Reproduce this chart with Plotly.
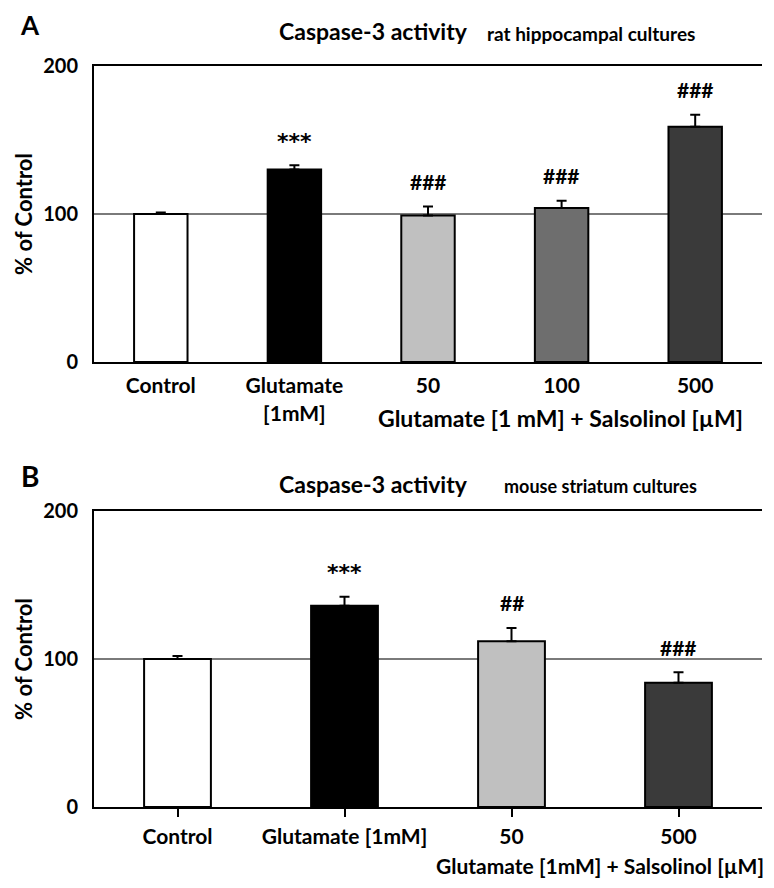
import plotly.graph_objects as go

# ---- Panel A data ----
cats_a = ["Control", "Glutamate<br>[1mM]", "50", "100", "500"]
vals_a = [100, 130, 99, 104, 159]
err_a = [1, 3, 6, 5, 8]
sig_a = ["", "***", "###", "###", "###"]
colors_a = ["#ffffff", "#000000", "#c0c0c0", "#6e6e6e", "#3a3a3a"]

# ---- Panel B data ----
cats_b = ["Control", "Glutamate [1mM]", "50", "500"]
vals_b = [100, 136, 112, 84]
err_b = [2, 6, 9, 7]
sig_b = ["", "***", "##", "###"]
colors_b = ["#ffffff", "#000000", "#c0c0c0", "#3a3a3a"]

y_ticks = [0, 100, 200]

FONT = "Lato"
# page has an 8px body margin; figure fills the rest of the 774x888 window
OFF = 8
W, H = 774 - 2 * OFF, 888 - 2 * OFF

def px(x):
    return (x - OFF) / W

def py(y):
    return 1 - (y - OFF) / H

fig = go.Figure()

fig.add_trace(go.Bar(
    x=list(range(len(cats_a))), y=vals_a, xaxis="x", yaxis="y", width=0.4,
    marker=dict(color=colors_a, line=dict(color="black", width=2)),
    error_y=dict(type="data", symmetric=False, array=err_a,
                 arrayminus=[0] * len(err_a), color="black", thickness=2, width=5),
    showlegend=False, hoverinfo="skip"))

fig.add_trace(go.Bar(
    x=list(range(len(cats_b))), y=vals_b, xaxis="x2", yaxis="y2", width=0.4,
    marker=dict(color=colors_b, line=dict(color="black", width=2)),
    error_y=dict(type="data", symmetric=False, array=err_b,
                 arrayminus=[0] * len(err_b), color="black", thickness=2, width=5),
    showlegend=False, hoverinfo="skip"))

xdom = [px(94), px(762)]
domA = [py(362), py(66)]
domB = [py(807), py(511)]

tickfont = dict(family=FONT, size=21, color="black", weight="bold")
ytickfont = dict(family=FONT, size=20, color="black", weight="bold")
ytitle = dict(family=FONT, size=22, color="black", weight="bold")

fig.update_layout(
    width=W, height=H,
    margin=dict(l=0, r=0, t=0, b=0),
    paper_bgcolor="white", plot_bgcolor="white",
    xaxis=dict(domain=xdom, anchor="y", range=[-0.5, 4.5], automargin=False,
               tickmode="array", tickvals=list(range(len(cats_a))), ticktext=cats_a,
               showline=True, linecolor="black", linewidth=2, mirror=True,
               ticks="", showgrid=False, zeroline=False, tickfont=tickfont,
               ticklabelstandoff=4),
    yaxis=dict(domain=domA, anchor="x", range=[0, 200], tickvals=y_ticks,
               automargin=False,
               showline=True, linecolor="black", linewidth=2,
               showgrid=True, gridcolor="#7a7a7a", gridwidth=2, zeroline=False,
               ticks="", tickfont=ytickfont, ticklabelstandoff=10,
               title=dict(text="% of Control", font=ytitle, standoff=4)),
    xaxis2=dict(domain=xdom, anchor="y2", range=[-0.5, 3.5], automargin=False,
                tickmode="array", tickvals=list(range(len(cats_b))), ticktext=cats_b,
                showline=True, linecolor="black", linewidth=2, mirror=True,
                ticks="outside", tickson="boundaries", ticklen=8, tickwidth=2,
                tickcolor="black", showgrid=False, zeroline=False, tickfont=tickfont,
                ticklabelstandoff=2),
    yaxis2=dict(domain=domB, anchor="x2", range=[0, 200], tickvals=y_ticks,
                automargin=False,
                showline=True, linecolor="black", linewidth=2,
                showgrid=True, gridcolor="#7a7a7a", gridwidth=2, zeroline=False,
                ticks="", tickfont=ytickfont, ticklabelstandoff=10,
                title=dict(text="% of Control", font=ytitle, standoff=4)),
)

anns = []

def sig(xref, yref, i, v, e, s):
    star = s.startswith("*")
    anns.append(dict(x=i, y=v + e, xref=xref, yref=yref, text=s, showarrow=False,
                     yanchor="middle", yshift=24 if star else 25,
                     font=dict(family="DejaVu Sans" if star else FONT,
                               size=22 if star else 21,
                               color="black", weight="bold")))

for i, (v, e, s) in enumerate(zip(vals_a, err_a, sig_a)):
    if s:
        sig("x", "y", i, v, e, s)
for i, (v, e, s) in enumerate(zip(vals_b, err_b, sig_b)):
    if s:
        sig("x2", "y2", i, v, e, s)

def ptxt(text, x, y, size, xanchor="center", yanchor="middle"):
    anns.append(dict(text=text, x=px(x), y=py(y), xref="paper", yref="paper",
                     showarrow=False, xanchor=xanchor, yanchor=yanchor, borderpad=0,
                     font=dict(family=FONT, size=size, color="black", weight="bold")))

ptxt("A", 30, 25, 26)
ptxt("B", 30, 476, 28)
ptxt("Caspase-3 activity", 373, 31, 23)
ptxt("rat hippocampal cultures", 591, 33, 19)
ptxt("Caspase-3 activity", 373, 484, 23)
ptxt("mouse striatum cultures", 600, 486, 18)
ptxt("Glutamate [1 mM] + Salsolinol [µM]", 560, 418, 23)
ptxt("Glutamate [1mM] + Salsolinol [µM]", 765, 865, 21, xanchor="right")

fig.update_layout(annotations=anns)

fig.write_html("out.html")
